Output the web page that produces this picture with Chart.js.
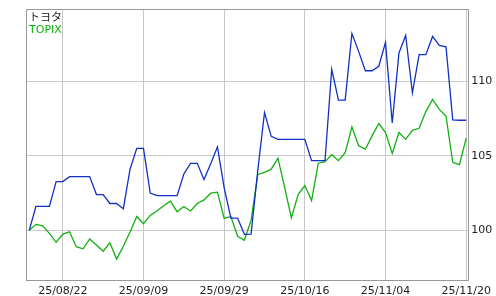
<!DOCTYPE html>
<html>
<head>
<meta charset="utf-8">
<script src="https://cdn.jsdelivr.net/npm/chart.js@4"></script>
<style>
  html, body { margin: 0; padding: 0; background: #fff; }
  #wrap { width: 496px; height: 296px; }
</style>
</head>
<body>
<div id="wrap"><canvas id="priceChart" width="496" height="296"></canvas></div>
<script>
// ========== Data (daily, 25/08/15 .. 25/11/20, rebased to 100) ==========
const toyota = [
  100.0, 101.6, 101.6, 101.6, 103.27, 103.27, 103.6, 103.6, 103.6, 103.6,
  102.4, 102.4, 101.8, 101.8, 101.45, 104.1, 105.5, 105.5, 102.5, 102.33,
  102.33, 102.33, 102.33, 103.78, 104.49, 104.49, 103.4, 104.47, 105.6, 102.85,
  100.82, 100.82, 99.73, 99.75, 104.0, 107.9, 106.3, 106.1, 106.1, 106.1,
  106.1, 106.1, 104.67, 104.67, 104.67, 110.8, 108.73, 108.73, 113.2, 112.0,
  110.7, 110.7, 111.0, 112.6, 107.2, 111.89, 113.07, 109.22, 111.78, 111.78,
  113.0, 112.4, 112.3, 107.4, 107.38, 107.38
];
const topix = [
  100.0, 100.4, 100.3, 99.8, 99.2, 99.75, 99.9, 98.9, 98.76, 99.42,
  99.02, 98.6, 99.16, 98.07, 98.93, 99.89, 100.93, 100.44, 101.0, 101.3,
  101.65, 101.96, 101.25, 101.6, 101.3, 101.8, 102.04, 102.49, 102.56, 100.8,
  100.93, 99.6, 99.33, 100.67, 103.75, 103.89, 104.1, 104.84, 102.87, 100.84,
  102.4, 103.0, 102.0, 104.5, 104.6, 105.07, 104.67, 105.2, 106.93, 105.67,
  105.44, 106.33, 107.16, 106.56, 105.16, 106.56, 106.1, 106.7, 106.84, 107.96,
  108.78, 108.11, 107.67, 104.56, 104.4, 106.18
];
const seriesNames = ['トヨタ', 'TOPIX'];
const dateTickIndex = [5, 17, 29, 41, 53, 65];
const dateTickLabels = ['25/08/22', '25/09/09', '25/09/29', '25/10/16', '25/11/04', '25/11/20'];
const valueTicks = [100, 105, 110];

const FONT = '"DejaVu Sans", "Noto Sans CJK JP", sans-serif';
const toPoints = arr => arr.map((v, i) => ({ x: i, y: v }));

// frame + legend text drawn on top of the plot
const framePlugin = {
  id: 'frame',
  afterDraw(chart) {
    const { ctx, chartArea: a } = chart;
    ctx.save();
    ctx.strokeStyle = '#999';
    ctx.lineWidth = 1;
    ctx.strokeRect(Math.round(a.left) - 0.5, Math.round(a.top) - 0.5,
                   Math.round(a.right - a.left) + 1, Math.round(a.bottom - a.top) + 1);
    ctx.font = '11px ' + FONT;
    ctx.textBaseline = 'top';
    ctx.fillStyle = '#222';
    ctx.fillText(seriesNames[0], a.left + 2, a.top + 3);
    ctx.fillStyle = '#10b010';
    ctx.fillText(seriesNames[1], a.left + 2, a.top + 15);
    ctx.restore();
  }
};

new Chart(document.getElementById('priceChart'), {
  type: 'line',
  data: {
    datasets: [{
      label: seriesNames[0],
      data: toPoints(toyota),
      borderColor: '#1030c8',
      borderWidth: 1.3,
      pointRadius: 0,
      tension: 0,
      fill: false
    }, {
      label: seriesNames[1],
      data: toPoints(topix),
      borderColor: '#10b010',
      borderWidth: 1.3,
      pointRadius: 0,
      tension: 0,
      fill: false
    }]
  },
  options: {
    responsive: false,
    devicePixelRatio: 1,
    animation: false,
    layout: { padding: { left: 27, top: 8, right: 0, bottom: 0 } },
    plugins: { legend: { display: false }, tooltip: { enabled: false } },
    scales: {
      x: {
        type: 'linear',
        min: -0.33,
        max: 65.3,
        afterBuildTicks: s => { s.ticks = dateTickIndex.map(v => ({ value: v })); },
        afterFit: s => { s.height = 16; },
        grid: { color: '#c8c8c8', lineWidth: 1, drawTicks: false },
        border: { display: false },
        ticks: {
          padding: 5,
          maxRotation: 0,
          autoSkip: false,
          color: '#222',
          font: { family: FONT, size: 11 },
          callback: v => dateTickLabels[dateTickIndex.indexOf(v)]
        }
      },
      y: {
        position: 'right',
        min: 96.67,
        max: 114.8,
        afterBuildTicks: s => { s.ticks = valueTicks.map(v => ({ value: v })); },
        afterFit: s => { s.width = 26; },
        grid: { color: '#c8c8c8', lineWidth: 1, drawTicks: false },
        border: { display: false },
        ticks: {
          padding: 3,
          color: '#222',
          font: { family: FONT, size: 11 }
        }
      }
    }
  },
  plugins: [framePlugin]
});
</script>
</body>
</html>
